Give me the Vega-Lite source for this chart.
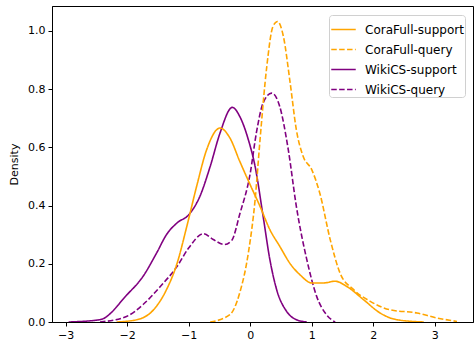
{
  "$schema": "https://vega.github.io/schema/vega-lite/v6.json",
  "width": 421,
  "height": 316,
  "autosize": {"type": "none"},
  "padding": {"left": 52, "top": 6, "right": 1, "bottom": 24},
  "background": "white",
  "config": {
    "view": {"stroke": "black", "strokeWidth": 1},
    "font": "DejaVu Sans",
    "axis": {"grid": false, "domainColor": "black", "tickColor": "black", "labelColor": "black", "titleColor": "black", "labelFontSize": 11, "titleFontSize": 11, "titleFontWeight": "normal", "tickSize": 4, "labelPadding": 3}
  },
  "data": {"values": [
    {"s": "WikiCS-support", "x": -2.95, "y": 0},
    {"s": "WikiCS-support", "x": -2.44, "y": 0.008},
    {"s": "WikiCS-support", "x": -2.0, "y": 0.094},
    {"s": "WikiCS-support", "x": -1.74, "y": 0.157},
    {"s": "WikiCS-support", "x": -1.52, "y": 0.237},
    {"s": "WikiCS-support", "x": -1.36, "y": 0.30},
    {"s": "WikiCS-support", "x": -1.19, "y": 0.34},
    {"s": "WikiCS-support", "x": -1.0, "y": 0.368},
    {"s": "WikiCS-support", "x": -0.82, "y": 0.43},
    {"s": "WikiCS-support", "x": -0.65, "y": 0.534},
    {"s": "WikiCS-support", "x": -0.49, "y": 0.649},
    {"s": "WikiCS-support", "x": -0.29, "y": 0.737},
    {"s": "WikiCS-support", "x": -0.17, "y": 0.706},
    {"s": "WikiCS-support", "x": -0.03, "y": 0.626},
    {"s": "WikiCS-support", "x": 0.08, "y": 0.534},
    {"s": "WikiCS-support", "x": 0.21, "y": 0.363},
    {"s": "WikiCS-support", "x": 0.32, "y": 0.214},
    {"s": "WikiCS-support", "x": 0.43, "y": 0.111},
    {"s": "WikiCS-support", "x": 0.59, "y": 0.037},
    {"s": "WikiCS-support", "x": 0.75, "y": 0.008},
    {"s": "WikiCS-support", "x": 0.92, "y": 0},

    {"s": "WikiCS-query", "x": -2.44, "y": 0},
    {"s": "WikiCS-query", "x": -2.0, "y": 0.02},
    {"s": "WikiCS-query", "x": -1.74, "y": 0.06},
    {"s": "WikiCS-query", "x": -1.46, "y": 0.122},
    {"s": "WikiCS-query", "x": -1.19, "y": 0.19},
    {"s": "WikiCS-query", "x": -1.0, "y": 0.254},
    {"s": "WikiCS-query", "x": -0.76, "y": 0.303},
    {"s": "WikiCS-query", "x": -0.6, "y": 0.283},
    {"s": "WikiCS-query", "x": -0.42, "y": 0.266},
    {"s": "WikiCS-query", "x": -0.3, "y": 0.28},
    {"s": "WikiCS-query", "x": -0.17, "y": 0.37},
    {"s": "WikiCS-query", "x": 0.0, "y": 0.51},
    {"s": "WikiCS-query", "x": 0.10, "y": 0.649},
    {"s": "WikiCS-query", "x": 0.21, "y": 0.752},
    {"s": "WikiCS-query", "x": 0.35, "y": 0.786},
    {"s": "WikiCS-query", "x": 0.48, "y": 0.74},
    {"s": "WikiCS-query", "x": 0.62, "y": 0.59},
    {"s": "WikiCS-query", "x": 0.75, "y": 0.397},
    {"s": "WikiCS-query", "x": 0.92, "y": 0.214},
    {"s": "WikiCS-query", "x": 1.08, "y": 0.088},
    {"s": "WikiCS-query", "x": 1.24, "y": 0.025},
    {"s": "WikiCS-query", "x": 1.38, "y": 0},

    {"s": "CoraFull-support", "x": -2.17, "y": 0},
    {"s": "CoraFull-support", "x": -1.84, "y": 0.008},
    {"s": "CoraFull-support", "x": -1.57, "y": 0.042},
    {"s": "CoraFull-support", "x": -1.36, "y": 0.111},
    {"s": "CoraFull-support", "x": -1.19, "y": 0.2},
    {"s": "CoraFull-support", "x": -1.03, "y": 0.328},
    {"s": "CoraFull-support", "x": -0.87, "y": 0.466},
    {"s": "CoraFull-support", "x": -0.71, "y": 0.59},
    {"s": "CoraFull-support", "x": -0.49, "y": 0.666},
    {"s": "CoraFull-support", "x": -0.33, "y": 0.632},
    {"s": "CoraFull-support", "x": -0.17, "y": 0.552},
    {"s": "CoraFull-support", "x": 0.0, "y": 0.471},
    {"s": "CoraFull-support", "x": 0.16, "y": 0.397},
    {"s": "CoraFull-support", "x": 0.32, "y": 0.317},
    {"s": "CoraFull-support", "x": 0.48, "y": 0.26},
    {"s": "CoraFull-support", "x": 0.65, "y": 0.2},
    {"s": "CoraFull-support", "x": 0.81, "y": 0.162},
    {"s": "CoraFull-support", "x": 1.0, "y": 0.134},
    {"s": "CoraFull-support", "x": 1.19, "y": 0.134},
    {"s": "CoraFull-support", "x": 1.38, "y": 0.14},
    {"s": "CoraFull-support", "x": 1.57, "y": 0.122},
    {"s": "CoraFull-support", "x": 1.84, "y": 0.077},
    {"s": "CoraFull-support", "x": 2.11, "y": 0.031},
    {"s": "CoraFull-support", "x": 2.38, "y": 0.008},
    {"s": "CoraFull-support", "x": 2.82, "y": 0},

    {"s": "CoraFull-query", "x": -0.65, "y": 0},
    {"s": "CoraFull-query", "x": -0.33, "y": 0.025},
    {"s": "CoraFull-query", "x": -0.17, "y": 0.1},
    {"s": "CoraFull-query", "x": -0.03, "y": 0.237},
    {"s": "CoraFull-query", "x": 0.08, "y": 0.42},
    {"s": "CoraFull-query", "x": 0.16, "y": 0.626},
    {"s": "CoraFull-query", "x": 0.27, "y": 0.878},
    {"s": "CoraFull-query", "x": 0.37, "y": 1.015},
    {"s": "CoraFull-query", "x": 0.445, "y": 1.032},
    {"s": "CoraFull-query", "x": 0.54, "y": 0.98},
    {"s": "CoraFull-query", "x": 0.65, "y": 0.82},
    {"s": "CoraFull-query", "x": 0.75, "y": 0.66},
    {"s": "CoraFull-query", "x": 0.86, "y": 0.569},
    {"s": "CoraFull-query", "x": 1.0, "y": 0.523},
    {"s": "CoraFull-query", "x": 1.13, "y": 0.443},
    {"s": "CoraFull-query", "x": 1.30, "y": 0.283},
    {"s": "CoraFull-query", "x": 1.46, "y": 0.168},
    {"s": "CoraFull-query", "x": 1.68, "y": 0.111},
    {"s": "CoraFull-query", "x": 1.95, "y": 0.071},
    {"s": "CoraFull-query", "x": 2.27, "y": 0.042},
    {"s": "CoraFull-query", "x": 2.71, "y": 0.031},
    {"s": "CoraFull-query", "x": 3.03, "y": 0.014},
    {"s": "CoraFull-query", "x": 3.36, "y": 0.002}
  ]},
  "mark": {"type": "line", "interpolate": "monotone", "strokeWidth": 1.6, "clip": true},
  "encoding": {
    "x": {"field": "x", "type": "quantitative", "scale": {"domain": [-3.22, 3.62], "nice": false, "zero": false},
      "axis": {"values": [-3, -2, -1, 0, 1, 2, 3], "title": null, "labelExpr": "replace(datum.label, '-', '\u2212')"}},
    "y": {"field": "y", "type": "quantitative", "scale": {"domain": [0, 1.085], "nice": false},
      "axis": {"values": [0, 0.2, 0.4, 0.6, 0.8, 1.0], "format": ".1f", "title": "Density", "titlePadding": 8}},
    "color": {"field": "s", "type": "nominal",
      "scale": {"domain": ["CoraFull-support", "CoraFull-query", "WikiCS-support", "WikiCS-query"], "range": ["#FFA500", "#FFA500", "#800080", "#800080"]},
      "legend": {"title": null, "orient": "none", "legendX": 277, "legendY": 9, "symbolType": "stroke", "symbolStrokeWidth": 1.6, "symbolSize": 600, "labelFontSize": 12, "labelColor": "black", "rowPadding": -8.5, "padding": 1, "strokeColor": "#d0d0d0", "fillColor": "white", "cornerRadius": 3, "labelOffset": 8}},
    "strokeDash": {"field": "s", "type": "nominal",
      "scale": {"domain": ["CoraFull-support", "CoraFull-query", "WikiCS-support", "WikiCS-query"], "range": [[1, 0], [5.5, 2.4], [1, 0], [5.5, 2.4]]},
      "legend": {"title": null}},
    "detail": {"field": "s"}
  }
}
